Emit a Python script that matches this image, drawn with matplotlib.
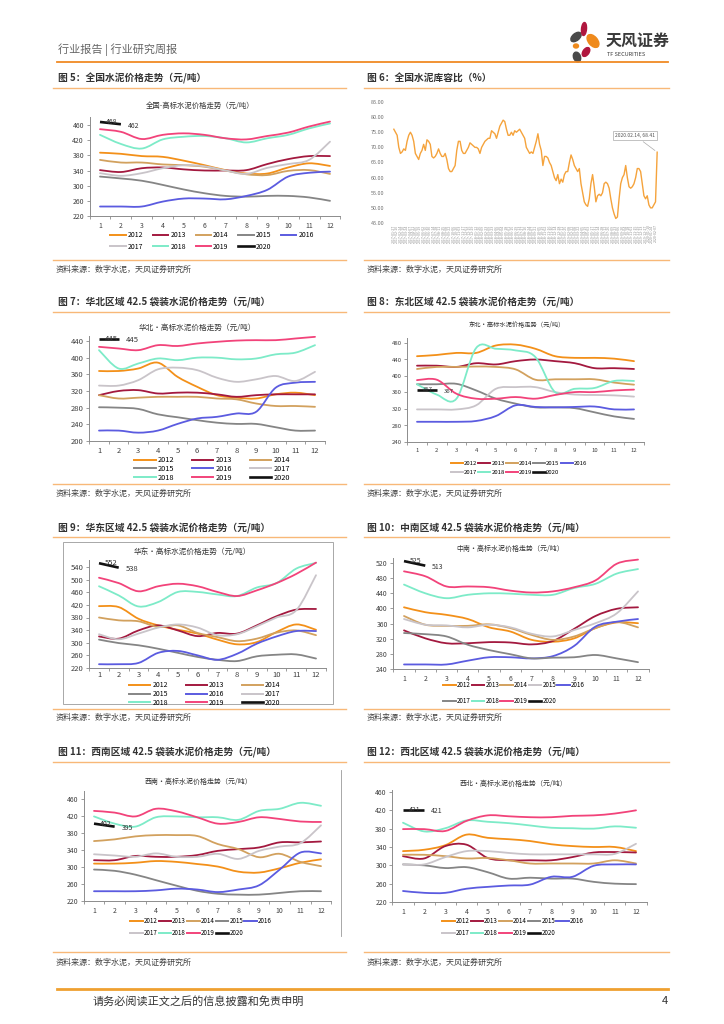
import numpy as np
import pandas as pd
import matplotlib
matplotlib.use("Agg")
import matplotlib.pyplot as plt
from matplotlib.path import Path
from matplotlib.patches import PathPatch, Ellipse, Rectangle
from matplotlib.lines import Line2D

plt.rcParams['font.family'] = ['Noto Sans CJK SC', 'DejaVu Sans']
plt.rcParams['axes.unicode_minus'] = False

W, H = 724, 1024

years = ['2012', '2013', '2014', '2015', '2016', '2017', '2018', '2019', '2020']
months = list(range(1, 13))
colors = {'2012': '#F39019', '2013': '#A3193F', '2014': '#D2A15E', '2015': '#858585',
          '2016': '#5B5BE0', '2017': '#C9C4C9', '2018': '#7DEBC8', '2019': '#F2437A',
          '2020': '#111111'}

# 图5 全国
national = {
    '2012': [387, 384, 378, 376, 366, 354, 341, 332, 332, 348, 359, 352],
    '2013': [341, 336, 346, 348, 343, 340, 340, 341, 357, 370, 378, 378],
    '2014': [368, 361, 361, 356, 354, 350, 340, 330, 328, 339, 341, 331],
    '2015': [324, 319, 313, 302, 290, 280, 273, 271, 273, 273, 269, 260],
    '2016': [245, 245, 245, 258, 266, 266, 264, 273, 289, 324, 334, 337],
    '2017': [333, 326, 333, 346, 354, 351, 340, 331, 347, 357, 368, 416],
    '2018': [434, 410, 398, 422, 429, 431, 425, 414, 425, 434, 451, 464],
    '2019': [449, 442, 423, 434, 438, 434, 425, 422, 431, 440, 456, 469],
    '2020': [468, 462],
}
# 图7 华北
north = {
    '2012': [368, 368, 374, 388, 354, 330, 310, 304, 302, 312, 316, 310],
    '2013': [310, 320, 322, 314, 316, 316, 312, 306, 310, 312, 312, 312],
    '2014': [310, 302, 304, 306, 306, 306, 302, 300, 290, 284, 284, 282],
    '2015': [281, 280, 277, 264, 257, 250, 244, 241, 241, 233, 225, 225],
    '2016': [225, 225, 220, 225, 241, 254, 258, 266, 270, 328, 340, 342],
    '2017': [333, 333, 346, 372, 376, 370, 352, 342, 348, 356, 344, 366],
    '2018': [418, 374, 386, 398, 394, 400, 400, 396, 398, 408, 412, 430],
    '2019': [426, 422, 418, 430, 428, 434, 438, 441, 442, 442, 446, 450],
    '2020': [445, 445],
}
# 图8 东北
northeast = {
    '2012': [448, 451, 456, 456, 474, 476, 466, 448, 444, 444, 442, 436],
    '2013': [425, 425, 422, 431, 428, 436, 440, 436, 431, 419, 419, 417],
    '2014': [417, 422, 422, 423, 422, 416, 391, 392, 392, 392, 384, 379],
    '2015': [380, 380, 381, 365, 345, 333, 324, 324, 322, 312, 302, 296],
    '2016': [289, 289, 289, 291, 303, 329, 325, 324, 325, 326, 319, 319],
    '2017': [319, 319, 319, 329, 369, 373, 373, 361, 355, 354, 353, 350],
    '2018': [380, 355, 345, 468, 466, 462, 446, 361, 369, 371, 388, 388],
    '2019': [390, 391, 357, 345, 345, 349, 345, 354, 361, 361, 365, 367],
    '2020': [367, 367],
}
# 图9 华东
east = {
    '2012': [416, 413, 376, 355, 341, 329, 310, 295, 302, 334, 358, 341],
    '2013': [320, 313, 339, 355, 339, 321, 331, 329, 355, 384, 405, 407],
    '2014': [380, 371, 368, 350, 355, 331, 318, 305, 313, 332, 339, 324],
    '2015': [310, 299, 292, 281, 268, 255, 246, 242, 257, 262, 263, 250],
    '2016': [232, 232, 236, 268, 274, 260, 246, 265, 297, 320, 337, 337],
    '2017': [327, 311, 329, 348, 358, 348, 324, 327, 352, 380, 403, 514],
    '2018': [479, 450, 415, 429, 461, 461, 453, 448, 475, 489, 535, 553],
    '2019': [506, 489, 463, 479, 487, 479, 461, 448, 466, 489, 518, 554],
    '2020': [552, 538],
}
# 图10 中南
central_south = {
    '2012': [403, 390, 383, 372, 350, 339, 317, 312, 321, 348, 363, 361],
    '2013': [342, 321, 308, 308, 311, 310, 305, 314, 346, 380, 399, 403],
    '2014': [380, 357, 354, 354, 358, 348, 330, 317, 326, 348, 364, 350],
    '2015': [372, 357, 355, 350, 357, 350, 333, 326, 343, 361, 387, 445],
    '2016': [252, 252, 252, 262, 271, 271, 268, 274, 301, 352, 365, 372],
    '2017': [335, 332, 326, 304, 290, 279, 268, 270, 271, 277, 268, 258],
    '2018': [463, 440, 427, 436, 440, 439, 436, 436, 454, 465, 492, 504],
    '2019': [498, 485, 458, 458, 456, 447, 442, 445, 456, 474, 518, 529],
    '2020': [525, 513],
}
# 图11 西南
southwest = {
    '2012': [308, 308, 310, 314, 312, 307, 301, 289, 287, 297, 310, 318],
    '2013': [316, 316, 326, 324, 324, 328, 338, 342, 346, 358, 358, 360],
    '2014': [361, 365, 372, 375, 375, 373, 354, 342, 323, 331, 312, 302],
    '2015': [294, 291, 282, 269, 256, 244, 237, 235, 235, 239, 243, 243],
    '2016': [243, 243, 243, 245, 249, 247, 241, 247, 257, 294, 334, 332],
    '2017': [330, 327, 324, 332, 324, 324, 331, 319, 338, 348, 356, 398],
    '2018': [419, 402, 395, 417, 419, 417, 417, 411, 432, 437, 451, 444],
    '2019': [432, 428, 419, 437, 431, 417, 402, 406, 417, 413, 407, 406],
    '2020': [402, 395],
}
# 图12 西北
northwest = {
    '2012': [331, 334, 344, 367, 360, 357, 353, 346, 342, 340, 340, 331],
    '2013': [320, 315, 342, 345, 316, 311, 311, 311, 318, 328, 329, 328],
    '2014': [323, 323, 320, 315, 316, 311, 304, 304, 304, 304, 311, 304],
    '2015': [302, 300, 294, 296, 285, 271, 273, 271, 271, 264, 260, 259],
    '2016': [244, 240, 240, 249, 253, 256, 258, 275, 275, 299, 302, 302],
    '2017': [302, 302, 318, 331, 331, 327, 324, 324, 324, 324, 325, 347],
    '2018': [393, 374, 381, 398, 395, 392, 387, 382, 381, 380, 385, 382],
    '2019': [379, 379, 375, 397, 409, 407, 405, 405, 408, 409, 413, 420],
    '2020': [421, 421],
}
# 图6 全国水泥库容比 (%), weekly
inventory = [76, 75, 74, 70, 68, 68.5, 69.5, 69, 72, 74, 75, 74, 72, 68, 67, 66, 68, 69, 71, 69,
             72.5, 72, 71, 67, 66.5, 67, 68, 69.5, 68, 67, 67, 68, 66, 63, 62, 62, 63, 64, 69, 72,
             72, 69, 68, 68, 69, 70, 71.5, 71, 70.5, 70, 70, 69.5, 68, 70, 71, 72, 72.5, 73, 73, 75.5,
             75, 74.5, 73, 75, 77, 78, 79, 78.5, 76, 74, 74, 75, 74, 75.5, 75, 75.5, 76, 75, 74, 73,
             70, 69, 68, 68.5, 68, 70, 72, 74.5, 71, 69, 64, 67, 67, 66.5, 65, 64, 62, 60, 59, 61,
             58, 59.5, 58.5, 61, 62, 62, 65, 67.5, 66, 64, 63, 62, 63, 58, 55, 52, 51, 50.5, 53, 58,
             61, 57, 52, 54, 54.5, 54, 55, 58, 58.5, 58, 56.5, 53, 50, 48, 46.5, 47, 53, 58, 60, 61,
             64, 60, 57, 56.5, 57, 58, 60, 63, 63, 62, 58, 54, 53, 54, 51, 50, 50, 51, 52, 68.41]
inv_dates = pd.date_range(end='2020-02-14', periods=len(inventory), freq='W-FRI').strftime('%Y-%m-%d').tolist()

fig = plt.figure(figsize=(W / 100, H / 100), dpi=100)
bg = fig.add_axes([0, 0, 1, 1])
bg.set_xlim(0, W)
bg.set_ylim(H, 0)
bg.axis('off')


def px_axes(left, top, right, bottom):
    ax = fig.add_axes([left / W, 1 - bottom / H, (right - left) / W, (bottom - top) / H])
    ax.patch.set_visible(False)
    return ax


def smooth_line(ax, ys, color, lw):
    pts = np.column_stack([np.arange(1, len(ys) + 1), ys]).astype(float)
    verts = [pts[0]]
    codes = [Path.MOVETO]
    n = len(pts)
    for i in range(n - 1):
        p0 = pts[i - 1] if i > 0 else pts[i]
        p1, p2 = pts[i], pts[i + 1]
        p3 = pts[i + 2] if i + 2 < n else pts[i + 1]
        verts += [p1 + (p2 - p0) / 6, p2 - (p3 - p1) / 6, p2]
        codes += [Path.CURVE4] * 3
    ax.add_patch(PathPatch(Path(verts, codes), fill=False, edgecolor=color, lw=lw, capstyle='round'))


def row_major(items, ncol):
    # matplotlib fills legend columns first; reorder so entries read row by row
    n = len(items)
    nrows = -(-n // ncol)
    return [items[r * ncol + c] for c in range(ncol) for r in range(nrows) if r * ncol + c < n]


def price_chart(data, yticks, ytop, x1, x12, ybot_px, ytick_px, title, title_xy, title_fs,
                tick_fs, leg_xy, ncol, leg_fs, leg_kw, cmap=colors, xpad=4):
    ylo, yhi = yticks[0], yticks[-1]
    ppu = (ybot_px - ytick_px) / (yhi - ylo)
    top_px = ybot_px - (ytop - ylo) * ppu
    step = (x12 - x1) / 11
    ax = px_axes(x1 - step / 2, top_px, x12 + step / 2, ybot_px)
    ax.set_xlim(0.5, 12.5)
    ax.set_ylim(ylo, ytop)
    for y in years[:-1]:
        smooth_line(ax, data[y], cmap[y], 1.3)
    d20 = data['2020']
    ax.plot([1, 2], d20, color=cmap['2020'], lw=1.9, solid_capstyle='butt')
    ax.annotate(str(d20[0]), (1, d20[0]), xytext=(4, 0), textcoords='offset points',
                fontsize=tick_fs, va='center', color='#333333')
    ax.annotate(str(d20[1]), (2, d20[1]), xytext=(5, -1), textcoords='offset points',
                fontsize=tick_fs, va='center', color='#333333')
    for s in ['top', 'right']:
        ax.spines[s].set_visible(False)
    for s in ['left', 'bottom']:
        ax.spines[s].set_color('#8C8C8C')
        ax.spines[s].set_linewidth(0.7)
    ax.set_yticks(yticks)
    ax.set_xticks(months)
    ax.set_xticks(np.arange(0.5, 13, 1), minor=True)
    ax.tick_params(axis='y', length=2, width=0.6, color='#8C8C8C', labelsize=tick_fs,
                   labelcolor='#404040', pad=2)
    ax.tick_params(axis='x', which='major', length=0, labelsize=tick_fs, labelcolor='#404040', pad=xpad)
    ax.tick_params(axis='x', which='minor', length=2.5, width=0.6, color='#8C8C8C')
    bg.text(title_xy[0], title_xy[1], title, fontsize=title_fs, ha='center', va='center', color='#333333')
    handles = [Line2D([], [], color=cmap[y], lw=1.9 if y == '2020' else 1.4) for y in years]
    fig.legend(row_major(handles, ncol), row_major(years, ncol), loc='center',
               bbox_to_anchor=(leg_xy[0] / W, 1 - leg_xy[1] / H),
               ncol=ncol, fontsize=leg_fs, frameon=False, borderpad=0, **leg_kw)
    return ax


# ---- page decorations ----
orange = '#F08A24'
light = '#F8B878'
bg.text(58, 50, '行业报告 | 行业研究周报', fontsize=8, color='#666666', va='center')
bg.plot([57, 668], [62, 62], color=orange, lw=1.3)
# logo
for (cx, cy, w, h, ang, c) in [(576, 37, 7, 12, 50, '#4A4A4A'), (584, 29, 5, 13, 5, '#B0163E'),
                               (593, 41, 9, 15, -40, '#EF8A1C'), (576, 46, 5, 4, 0, '#EF8A1C'),
                               (586, 52, 6, 10, 35, '#B0163E'), (577, 57, 7, 10, -20, '#4A4A4A')]:
    bg.add_patch(Ellipse((cx, cy), w, h, angle=ang, color=c))
bg.text(606, 41, '天风证券', fontsize=11.5, fontweight='bold', color='#3A3A3A', va='center')
bg.text(607, 54, 'TF SECURITIES', fontsize=4, color='#3A3A3A', va='center')

rows = [(78, 88, 260, 269), (302, 312, 484, 493), (528, 537, 709, 717), (752, 762, 952, 962)]
titles = [('图 5：全国水泥价格走势（元/吨）', '图 6：全国水泥库容比（%）'),
          ('图 7：华北区域 42.5 袋装水泥价格走势（元/吨）', '图 8：东北区域 42.5 袋装水泥价格走势（元/吨）'),
          ('图 9：华东区域 42.5 袋装水泥价格走势（元/吨）', '图 10：中南区域 42.5 袋装水泥价格走势（元/吨）'),
          ('图 11：西南区域 42.5 袋装水泥价格走势（元/吨）', '图 12：西北区域 42.5 袋装水泥价格走势（元/吨）')]
for (ty, ly, by, sy), (tl, tr) in zip(rows, titles):
    for (x0, x1, tx), t in [((53, 346, 58), tl), ((364, 669, 367), tr)]:
        bg.text(tx, ty, t, fontsize=7, fontweight='bold', color='#333333', va='center')
        bg.plot([x0, x1], [ly, ly], color=light, lw=1)
        bg.plot([x0, x1], [by, by], color=light, lw=1)
        bg.text(x0 + 3, sy, '资料来源：数字水泥，天风证券研究所', fontsize=5.8, color='#404040', va='center')

bg.add_patch(Rectangle((63, 542), 270, 162, fill=False, ec='#9A9A9A', lw=0.6))
bg.plot([341, 341], [770, 936], color='#9A9A9A', lw=0.6)

bg.plot([57, 668], [989, 989], color='#EFA030', lw=2)
bg.text(93, 1001, '请务必阅读正文之后的信息披露和免责申明', fontsize=8, color='#333333', va='center')
bg.text(668, 1001, '4', fontsize=8, color='#333333', va='center', ha='right')

# ---- charts ----
kw5 = dict(handlelength=2.2, handletextpad=0.3, columnspacing=1.4, labelspacing=0.45)
kw3 = dict(handlelength=2.9, handletextpad=0.3, columnspacing=2.4, labelspacing=0.12)
kw3b = dict(handlelength=3.0, handletextpad=0.3, columnspacing=2.6, labelspacing=0.08)
kw_small = dict(handlelength=2.0, handletextpad=0.15, columnspacing=0.2, labelspacing=0.6)

price_chart(national, list(range(220, 461, 40)), 480, 100, 330, 216, 125,
            '全国-高标水泥价格走势（元/吨）', (200, 106), 5.3, 5, (212, 241), 5, 5, kw5)
price_chart(north, list(range(200, 441, 40)), 452, 99, 315, 441, 341,
            '华北·高标水泥价格走势（元/吨）', (197, 328), 5.5, 5.5, (212, 469), 3, 5.3, kw3)
price_chart(northeast, list(range(240, 481, 40)), 492, 417, 634, 442, 343,
            '东北·高标水泥价格走势（元/吨）', (517, 325), 4.5, 4.3, (519, 468), 5, 4.3, kw_small)
price_chart(east, list(range(220, 541, 40)), 562, 99, 316, 668, 567,
            '华东·高标水泥价格走势（元/吨）', (192, 552), 5.5, 5.5, (205, 694), 3, 5.0, kw3b, xpad=2.5)
cs_colors = dict(colors, **{'2015': '#C9C4C9', '2017': '#858585'})
price_chart(central_south, list(range(240, 521, 40)), 532, 404, 638, 669, 563,
            '中南·高标水泥价格走势（元/吨）', (510, 549), 5, 5, (514, 693), 5, 4.5,
            dict(handlelength=2.0, handletextpad=0.15, columnspacing=0.2, labelspacing=1.2), cs_colors)
price_chart(southwest, list(range(220, 461, 40)), 478, 94, 321, 901, 799,
            '西南·高标水泥价格走势（元/吨）', (198, 782), 5, 5, (201, 927), 5, 4.5, kw_small)
price_chart(northwest, list(range(220, 461, 40)), 464, 403, 636, 902, 792,
            '西北·高标水泥价格走势（元/吨）', (513, 784), 5, 5, (513, 927), 5, 4.5, kw_small)

# 图6 库容比
ax6 = px_axes(393, 102, 658, 223)
xi = np.arange(len(inventory))
ax6.plot(xi, inventory, color='#F5A33C', lw=1)
ax6.set_xlim(-0.5, len(inventory) - 0.5)
ax6.set_ylim(45, 85)
ax6.set_yticks(np.arange(45, 86, 5))
ax6.set_yticklabels(['%.2f' % v for v in np.arange(45, 86, 5)])
ax6.set_xticks(xi[::2])
ax6.set_xticklabels(inv_dates[::2], rotation=90)
for s in ax6.spines.values():
    s.set_visible(False)
ax6.tick_params(axis='y', length=0, labelsize=4, labelcolor='#707070', pad=6)
ax6.tick_params(axis='x', length=0, labelsize=2.6, labelcolor='#909090', pad=1)
ax6.annotate('2020.02.14, 68.41', (xi[-1], inventory[-1]), xytext=(-16, 12), textcoords='offset points',
             fontsize=3.6, ha='center', va='center', color='#555555',
             bbox=dict(boxstyle='square,pad=0.35', fc='white', ec='#AAAAAA', lw=0.5),
             arrowprops=dict(arrowstyle='-', color='#AAAAAA', lw=0.5))

fig.savefig('out.png', dpi=100)
